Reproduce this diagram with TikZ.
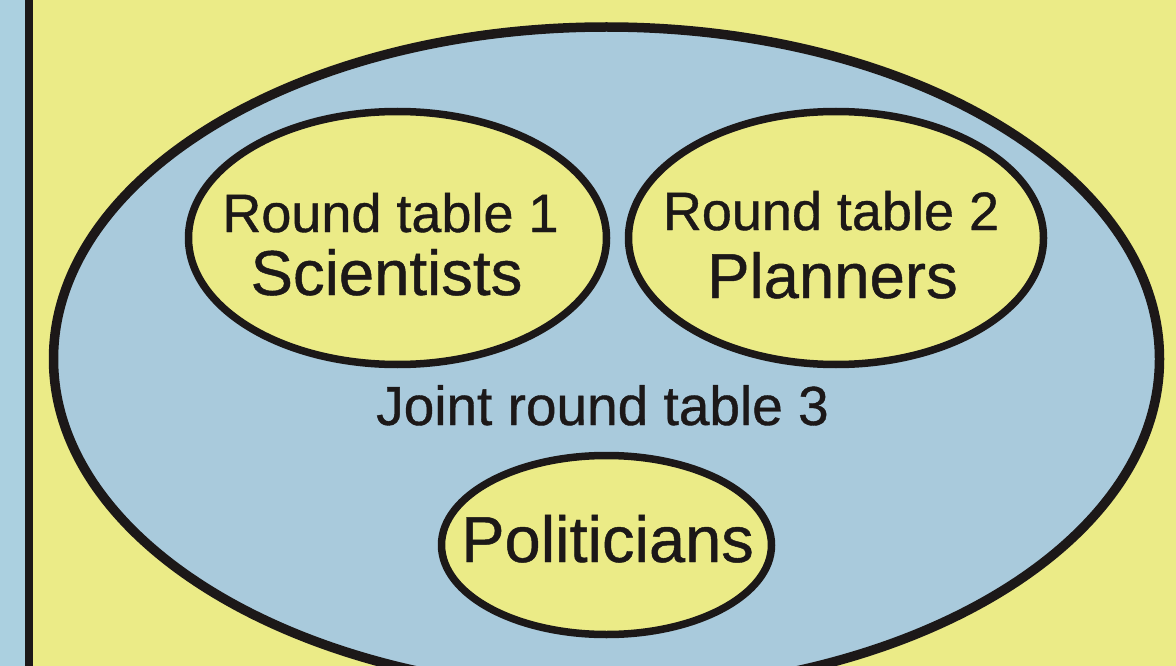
\documentclass[tikz,border=0pt]{standalone}
\usepackage{fontspec}
\setmainfont{Liberation Sans}[FakeBold=0.7]
\usetikzlibrary{shapes.geometric}
\definecolor{bgyellow}{RGB}{235,235,135}
\definecolor{stripblue}{RGB}{171,208,224}
\definecolor{innerblue}{RGB}{169,202,220}
\definecolor{ink}{RGB}{28,24,24}
\tikzset{
  outerring/.style={draw=ink, line width=9.5pt, fill=innerblue},
  tablering/.style={draw=ink, line width=7.5pt, fill=bgyellow},
  lbl/.style={anchor=base, inner sep=0pt, text=ink},
}
\newcommand{\fs}[1]{\fontsize{#1}{#1}\selectfont}
\begin{document}
\begin{tikzpicture}[x=1pt,y=-1pt]
\useasboundingbox (0,0) rectangle (1176,666);
\fill[bgyellow] (0,0) rectangle (1176,666);
\fill[stripblue] (0,0) rectangle (25,666);
\fill[ink] (25,0) rectangle (33,666);
\begin{scope}
\clip (33,0) rectangle (1176,666);
\draw[outerring] (606.5,359) ellipse [x radius=553, y radius=332];
\end{scope}
\draw[tablering] (397.5,238) ellipse [x radius=209, y radius=126.5];
\draw[tablering] (836,238) ellipse [x radius=207.5, y radius=126.5];
\draw[tablering] (606.5,545) ellipse [x radius=165, y radius=89.5];
\node[lbl, font=\fs{54}] (t1a) at (390.5,232) {Round table 1};
\node[lbl, font=\fs{63.5}] (t1b) at (386.5,295) {Scientists};
\node[lbl, font=\fs{54}] (t2a) at (831,230) {Round table 2};
\node[lbl, font=\fs{63.5}] (t2b) at (832.5,298) {Planners};
\node[lbl, font=\fs{55}] (t3) at (602.5,425) {Joint round table 3};
\node[lbl, font=\fs{65}] (t4) at (607.5,562) {Politicians};
\end{tikzpicture}
\end{document}
